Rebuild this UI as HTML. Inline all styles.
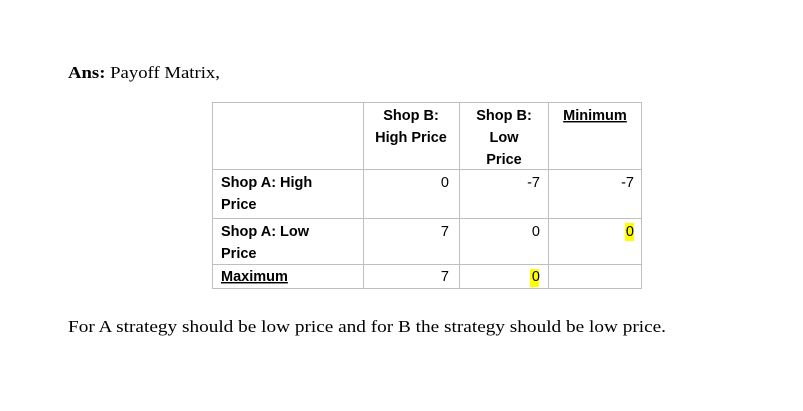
<!DOCTYPE html>
<html><head><meta charset="utf-8"><style>
html,body{margin:0;padding:0;background:#fff;width:803px;height:411px;overflow:hidden}
svg{display:block}
.s{font-family:"Liberation Serif",serif;font-size:17px;fill:#000}
.t{font-family:"Liberation Sans",sans-serif;font-size:14.5px;fill:#000}
.b{font-weight:bold}
line{stroke:#bfbfbf;stroke-width:1}
</style></head><body>
<svg width="803" height="411">
<text x="68" y="78" class="s" textLength="152" lengthAdjust="spacingAndGlyphs"><tspan font-weight="bold">Ans:</tspan>  Payoff Matrix,</text>
<g>
<rect x="212.5" y="102.5" width="429" height="186" fill="none" stroke="#bfbfbf"/>
<line x1="363.5" y1="102" x2="363.5" y2="289"/>
<line x1="459.5" y1="102" x2="459.5" y2="289"/>
<line x1="548.5" y1="102" x2="548.5" y2="289"/>
<line x1="212" y1="169.5" x2="642" y2="169.5"/>
<line x1="212" y1="218.5" x2="642" y2="218.5"/>
<line x1="212" y1="264.5" x2="642" y2="264.5"/>
<rect x="625" y="223" width="9" height="18" fill="#ffff00"/>
<rect x="530" y="269" width="9" height="18" fill="#ffff00"/>
<g class="t b">
<text x="411" y="120" text-anchor="middle">Shop B:</text>
<text x="411" y="142" text-anchor="middle">High Price</text>
<text x="504" y="120" text-anchor="middle">Shop B:</text>
<text x="504" y="142" text-anchor="middle">Low</text>
<text x="504" y="164" text-anchor="middle">Price</text>
<text x="595" y="120" text-anchor="middle" text-decoration="underline">Minimum</text>
<text x="221" y="187">Shop A: High</text>
<text x="221" y="209">Price</text>
<text x="221" y="236">Shop A: Low</text>
<text x="221" y="258">Price</text>
<text x="221" y="281" text-decoration="underline">Maximum</text>
</g>
<g class="t" text-anchor="end">
<text x="449" y="187">0</text><text x="540" y="187">-7</text><text x="634" y="187">-7</text>
<text x="449" y="236">7</text><text x="540" y="236">0</text><text x="634" y="236">0</text>
<text x="449" y="281">7</text><text x="540" y="281">0</text>
</g>
</g>
<text x="68" y="332" class="s" textLength="598" lengthAdjust="spacingAndGlyphs">For A strategy should be low price and for B the strategy should be low price.</text>
</svg>
</body></html>
